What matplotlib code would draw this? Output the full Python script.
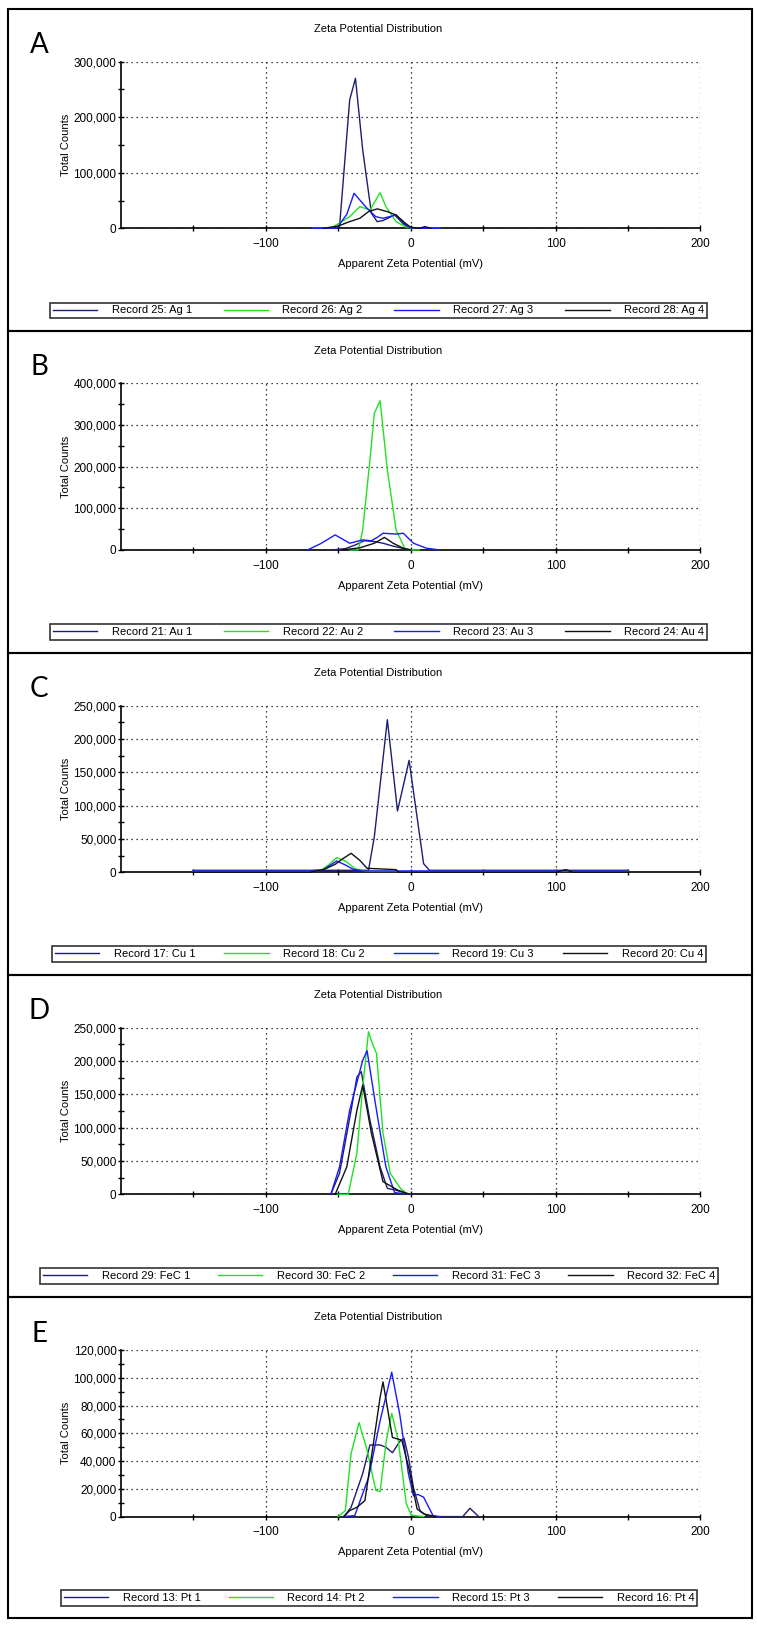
import matplotlib.pyplot as plt
from matplotlib.patches import Rectangle
from matplotlib.ticker import FuncFormatter

plt.rcParams['font.family'] = ['Liberation Sans', 'DejaVu Sans']

# --- data (mV, counts) ---
letters = ['A', 'B', 'C', 'D', 'E']
y_max = [300000, 400000, 250000, 250000, 120000]
y_step = [100000, 100000, 50000, 50000, 20000]
series_names = [
    ['Record 25: Ag 1', 'Record 26: Ag 2', 'Record 27: Ag 3', 'Record 28: Ag 4'],
    ['Record 21: Au 1', 'Record 22: Au 2', 'Record 23: Au 3', 'Record 24: Au 4'],
    ['Record 17: Cu 1', 'Record 18: Cu 2', 'Record 19: Cu 3', 'Record 20: Cu 4'],
    ['Record 29: FeC 1', 'Record 30: FeC 2', 'Record 31: FeC 3', 'Record 32: FeC 4'],
    ['Record 13: Pt 1', 'Record 14: Pt 2', 'Record 15: Pt 3', 'Record 16: Pt 4'],
]

ag1_x = [-67, -49, -42, -38, -33, -27, -23, -19, -11, -5, 0, 20]
ag1_y = [0, 2000, 231000, 270000, 141000, 27000, 12000, 14000, 24000, 8000, 0, 0]
ag2_x = [-67, -55, -42, -35, -28, -21, -17, -10, -3, 2, 20]
ag2_y = [0, 0, 21000, 39000, 33000, 64000, 39000, 12000, 2000, 0, 0]
ag3_x = [-67, -51, -44, -39, -30, -24, -19, -10, -2, 2, 20]
ag3_y = [0, 0, 25000, 63000, 36000, 21000, 18000, 24000, 3000, 0, 0]
ag4_x = [-60, -50, -42, -35, -29, -23, -16, -10, -4, 0, 6, 10, 14]
ag4_y = [0, 4000, 12000, 18000, 30000, 35000, 30000, 24000, 10000, 2000, 0, 3000, 0]

au1_x = [-54, -45, -38, -32, -25, -19, -12, -3, 0]
au1_y = [0, 3000, 12000, 22000, 20000, 16000, 9000, 2000, 0]
au2_x = [-42, -36, -33, -28, -25, -21, -16, -10, -4, 0, 6]
au2_y = [0, 0, 48000, 216000, 328000, 358000, 192000, 48000, 4000, 0, 0]
au3_x = [-71, -62, -52, -46, -42, -33, -27, -23, -19, -10, -5, 2, 11, 20]
au3_y = [0, 15000, 36000, 24000, 16000, 24000, 22000, 30000, 40000, 38000, 40000, 16000, 4000, 0]
au4_x = [-47, -35, -25, -18, -12, -5, 0]
au4_y = [0, 5000, 16000, 30000, 16000, 4000, 0]

cu1_x = [-150, -29, -25, -16, -9, -1, 9, 13, 150]
cu1_y = [3000, 3000, 53000, 229000, 92000, 168000, 13000, 3000, 3000]
cu2_x = [-150, -70, -62, -56, -51, -45, -38, -30, 150]
cu2_y = [1500, 1500, 3000, 12000, 22000, 17000, 5000, 1500, 1500]
cu3_x = [-150, -70, -60, -51, -45, -40, -33, 150]
cu3_y = [2000, 2000, 4000, 17000, 11000, 5000, 2000, 2000]
cu4_x = [-150, -70, -60, -52, -47, -41, -35, -30, -10, -8, 100, 107, 112, 150]
cu4_y = [0, 0, 4000, 12000, 20000, 28500, 18000, 6000, 4000, 0, 0, 4000, 0, 0]

fec1_x = [-55, -49, -41, -37, -34, -28, -21, -16, -11, -5, 0]
fec1_y = [0, 31500, 126000, 176000, 184000, 111000, 41000, 9000, 6500, 3000, 0]
fec2_x = [-50, -43, -37, -33, -29, -27, -23.5, -19, -14, -7, -2, 0]
fec2_y = [0, 0, 61500, 161000, 244000, 230000, 211500, 91500, 31500, 9000, 0, 0]
fec3_x = [-55, -49, -42, -33, -30, -23.5, -17, -11, 0]
fec3_y = [0, 41000, 126000, 201000, 215500, 126000, 41000, 2500, 0]
fec4_x = [-52, -44, -37, -33, -27, -19, -13, -9, -1]
fec4_y = [0, 41000, 126000, 164000, 91500, 19000, 11500, 6500, 0]

pt1_x = [-46, -41, -33, -28, -21, -17, -12.5, -7.5, -4.5, -1.5, 2, 6.5, 11, 18, 36, 41, 47]
pt1_y = [0, 6700, 31000, 51600, 51600, 50000, 46000, 54000, 56500, 43000, 21000, 4300, 700, 0, 0, 6000, 0]
pt2_x = [-50, -45, -41, -35.5, -30, -24, -21, -16.7, -13, -8.5, -3, 0.5, 9]
pt2_y = [0, 4300, 45600, 67700, 48000, 19000, 18000, 55000, 74400, 55000, 9600, 1000, 0]
pt3_x = [-46.5, -38.5, -29, -21, -13, -7.5, -1.5, 2, 5, 9, 15.5, 20]
pt3_y = [0, 700, 28000, 69000, 104000, 74000, 31000, 15000, 16000, 14000, 700, 0]
pt4_x = [-46, -42, -37, -31.5, -26, -21, -19, -12.5, -6, -1, 4.5, 9, 17]
pt4_y = [0, 4300, 6700, 11500, 50000, 86000, 97000, 57000, 55000, 34000, 5500, 2000, 0]

panel_data = [
    [(ag1_x, ag1_y), (ag2_x, ag2_y), (ag3_x, ag3_y), (ag4_x, ag4_y)],
    [(au1_x, au1_y), (au2_x, au2_y), (au3_x, au3_y), (au4_x, au4_y)],
    [(cu1_x, cu1_y), (cu2_x, cu2_y), (cu3_x, cu3_y), (cu4_x, cu4_y)],
    [(fec1_x, fec1_y), (fec2_x, fec2_y), (fec3_x, fec3_y), (fec4_x, fec4_y)],
    [(pt1_x, pt1_y), (pt2_x, pt2_y), (pt3_x, pt3_y), (pt4_x, pt4_y)],
]

colors = ['#1e1e6e', '#22e022', '#1a1aff', '#111111']

# --- layout in pixels ---
W, H = 757, 1630
ax_left, ax_w, ax_h = 120.6, 579.9, 166.6
ax_tops = [61.7, 383.3, 705.7, 1027.7, 1350.0]
panel_tops = [9, 330.7, 652.7, 975, 1296.7, 1618]
legend_boxes = [(50, 302, 657, 17), (50, 623, 657, 18), (52, 945, 654, 18),
                (40, 1267, 678, 18), (61, 1589, 636, 18)]

fig = plt.figure(figsize=(W / 100, H / 100), dpi=100)

for i in range(5):
    top = ax_tops[i]
    ax = fig.add_axes([ax_left / W, 1 - (top + ax_h) / H, ax_w / W, ax_h / H])

    lines = []
    for (x, y), c in zip(panel_data[i], colors):
        ln, = ax.plot(x, y, color=c, lw=1.0, clip_on=False, zorder=3)
        lines.append(ln)

    ax.set_xlim(-200, 200)
    ax.set_ylim(0, y_max[i])
    ax.set_xticks([-100, 0, 100, 200])
    ax.set_xticks([-150, -50, 50, 150], minor=True)
    step = y_step[i]
    ax.set_yticks(list(range(0, y_max[i] + 1, step)))
    ax.set_yticks(list(range(step // 2, y_max[i], step)), minor=True)
    ax.yaxis.set_major_formatter(FuncFormatter(lambda v, p: f'{int(v):,}'))

    ax.grid(True, which='major', color='black', linestyle=(0, (1, 3)), linewidth=0.9)
    ax.spines['top'].set_visible(False)
    ax.spines['right'].set_visible(False)
    for s in ['left', 'bottom']:
        ax.spines[s].set_linewidth(1.2)
        ax.spines[s].set_zorder(1)

    ax.tick_params(which='both', direction='inout', length=4, width=1, labelsize=8.5)
    ax.tick_params(axis='y', pad=1)
    ax.tick_params(axis='x', pad=5)

    ax.set_xlabel('Apparent Zeta Potential (mV)', fontsize=8)
    ax.xaxis.set_label_coords(0.5, -38.7 / ax_h)
    ax.xaxis.label.set_va('baseline')
    ax.set_ylabel('Total Counts', fontsize=8)
    ax.yaxis.set_label_coords((69 - ax_left) / ax_w, 0.5)
    ax.yaxis.label.set_va('baseline')

    fig.text(0.5, 1 - (top - 29.5) / H, 'Zeta Potential Distribution',
             ha='center', va='baseline', fontsize=8)
    fig.text(39 / W, 1 - (top - 8.5) / H, letters[i], ha='center', va='baseline',
             fontsize=20, family=['Lato', 'DejaVu Sans'])

    lx, ly, lw_, lh = legend_boxes[i]
    leg = ax.legend(lines, series_names[i], loc='center',
                    bbox_to_anchor=(lx / W, 1 - (ly + lh) / H, lw_ / W, lh / H),
                    bbox_transform=fig.transFigure, ncol=4, mode='expand',
                    handlelength=4.0, handletextpad=1.3, borderpad=0.25,
                    borderaxespad=0, fancybox=False, edgecolor='#333333',
                    fontsize=8, framealpha=1)
    leg.get_frame().set_linewidth(1.2)

    # panel frame
    fig.add_artist(Rectangle((8 / W, 1 - panel_tops[i + 1] / H), (752 - 8) / W,
                             (panel_tops[i + 1] - panel_tops[i]) / H,
                             transform=fig.transFigure, fill=False, lw=1.5,
                             ec='black'))

fig.savefig('out.png', dpi=100)
